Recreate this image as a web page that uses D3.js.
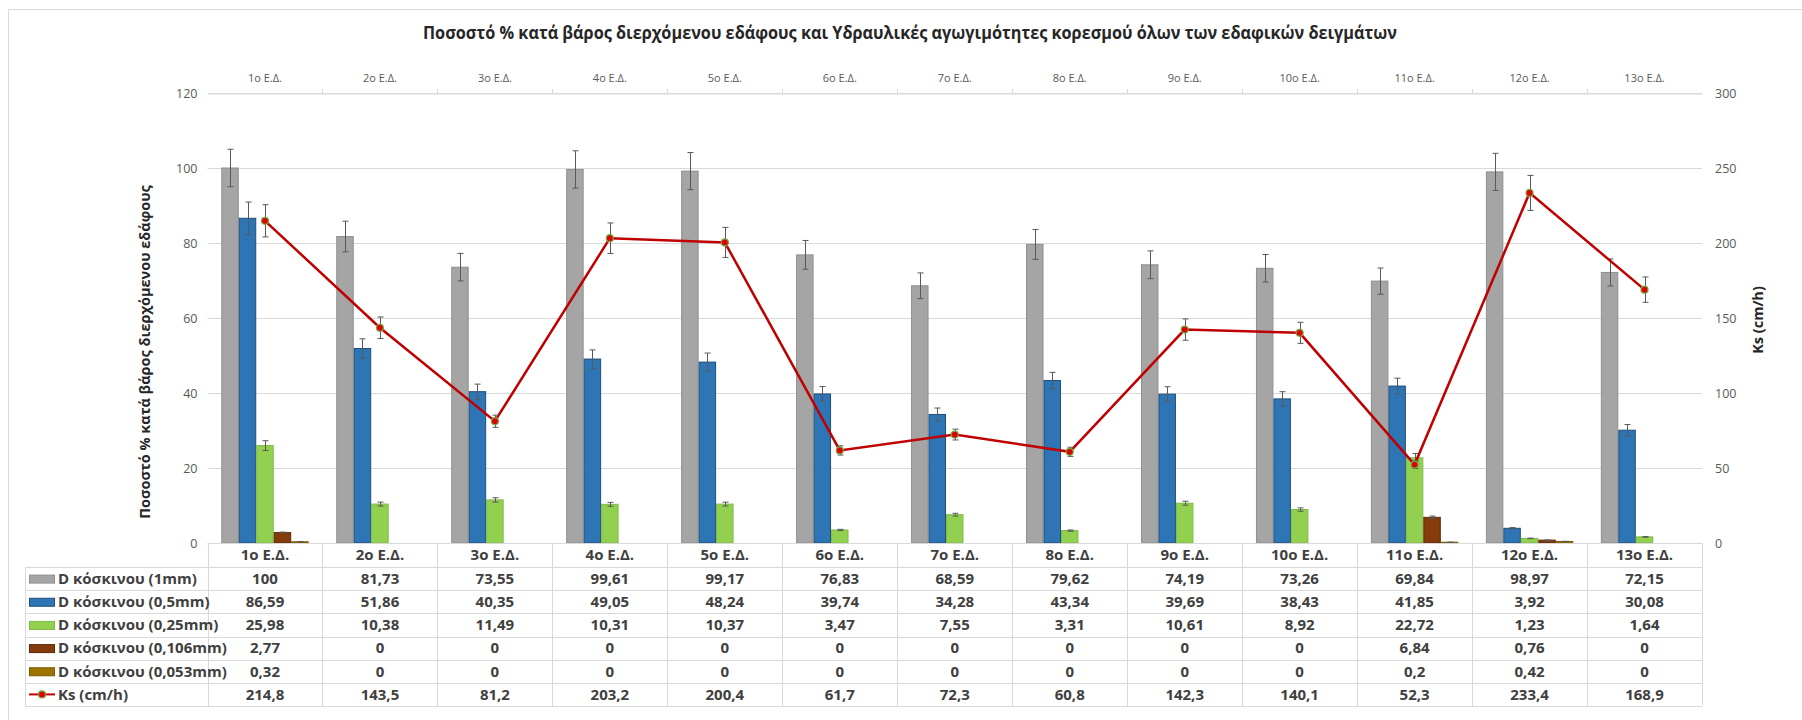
<!DOCTYPE html>
<html>
<head>
<meta charset="utf-8">
<script src="https://cdn.jsdelivr.net/npm/d3@7"></script>
<style>
  body { margin: 0; background: #ffffff; }
  svg text { font-family: 'Open Sans', 'Noto Sans', sans-serif; }
</style>
</head>
<body>
<div id="chart"></div>
<script>
// categories (soil samples)
const categories = ['1ο Ε.Δ.', '2ο Ε.Δ.', '3ο Ε.Δ.', '4ο Ε.Δ.', '5ο Ε.Δ.', '6ο Ε.Δ.', '7ο Ε.Δ.',
  '8ο Ε.Δ.', '9ο Ε.Δ.', '10ο Ε.Δ.', '11ο Ε.Δ.', '12ο Ε.Δ.', '13ο Ε.Δ.']

// % passing per sieve
const sieve_1mm = [100, 81.73, 73.55, 99.61, 99.17, 76.83, 68.59, 79.62, 74.19, 73.26, 69.84, 98.97, 72.15]
const sieve_05mm = [86.59, 51.86, 40.35, 49.05, 48.24, 39.74, 34.28, 43.34, 39.69, 38.43, 41.85, 3.92, 30.08]
const sieve_025mm = [25.98, 10.38, 11.49, 10.31, 10.37, 3.47, 7.55, 3.31, 10.61, 8.92, 22.72, 1.23, 1.64]
const sieve_0106mm = [2.77, 0, 0, 0, 0, 0, 0, 0, 0, 0, 6.84, 0.76, 0]
const sieve_0053mm = [0.32, 0, 0, 0, 0, 0, 0, 0, 0, 0, 0.2, 0.42, 0]

// hydraulic conductivity
const ks_values = [214.8, 143.5, 81.2, 203.2, 200.4, 61.7, 72.3, 60.8, 142.3, 140.1, 52.3, 233.4, 168.9]

const series_names = ['D κόσκινου (1mm)', 'D κόσκινου (0,5mm)', 'D κόσκινου (0,25mm)',
  'D κόσκινου (0,106mm)', 'D κόσκινου (0,053mm)']
const line_name = 'Ks (cm/h)'

const left_ticks = [0, 20, 40, 60, 80, 100, 120]
const right_ticks = [0, 50, 100, 150, 200, 250, 300]

const title_text = 'Ποσοστό % κατά βάρος διερχόμενου εδάφους και Υδραυλικές αγωγιμότητες κορεσμού όλων των εδαφικών δειγμάτων'
const y_title = 'Ποσοστό % κατά βάρος διερχόμενου εδάφους'
const y2_title = 'Ks (cm/h)'

const bar_series = [sieve_1mm, sieve_05mm, sieve_025mm, sieve_0106mm, sieve_0053mm]
const fills = ['#a5a5a5', '#2e75b6', '#92d050', '#843c0c', '#9c7400']
const strokes = ['#8f8f8f', '#1f4e79', '#7fbb45', '#5e2a08', '#7a5b00']

const W = 1802, H = 720
const plot = { left: 207.5, right: 1702, top: 93, bottom: 543 }
const table = { left: 25, headerBottom: 567, bottom: 706 }

const fmt = v => String(v).replace('.', ',')

const svg = d3.select('#chart').append('svg')
  .attr('width', W)
  .attr('height', H)

// outer chart border
svg.append('rect')
  .attr('x', 8.5).attr('y', 9.5)
  .attr('width', W).attr('height', H)
  .style('fill', 'none')
  .style('stroke', '#d9d9d9')

// scales
const x = d3.scaleBand().domain(categories).range([plot.left, plot.right]).padding(0)
const xs = d3.scaleBand().domain(d3.range(5)).range([0, x.bandwidth()]).paddingInner(0).paddingOuter(0.79)
const y = d3.scaleLinear().domain([0, 120]).range([plot.bottom, plot.top])
const y2 = d3.scaleLinear().domain([0, 300]).range([plot.bottom, plot.top])

// gridlines
svg.append('g')
  .selectAll('line')
  .data(left_ticks.slice(1))
  .enter()
  .append('line')
    .attr('x1', plot.left).attr('x2', plot.right)
    .attr('y1', d => Math.round(y(d)) + 0.5).attr('y2', d => Math.round(y(d)) + 0.5)
    .style('stroke', '#d9d9d9')

// left axis
const leftAxis = svg.append('g')
  .attr('transform', 'translate(' + plot.left + ',0)')
  .call(d3.axisLeft(y).tickValues(left_ticks).tickSize(0).tickPadding(10))
leftAxis.select('.domain').remove()
leftAxis.selectAll('text').style('font-size', '12.5px').style('fill', '#595959')

// right axis
const rightAxis = svg.append('g')
  .attr('transform', 'translate(' + plot.right + ',0)')
  .call(d3.axisRight(y2).tickValues(right_ticks).tickSize(0).tickPadding(13))
rightAxis.select('.domain').remove()
rightAxis.selectAll('text').style('font-size', '12.5px').style('fill', '#595959')

// top category axis
const topAxis = svg.append('g')
  .attr('transform', 'translate(0,' + (plot.top + 0.5) + ')')
  .call(d3.axisTop(x).tickSize(0).tickPadding(12))
topAxis.select('.domain').style('stroke', '#d9d9d9')
topAxis.selectAll('text').style('font-size', '11px').style('fill', '#595959')
svg.append('g')
  .selectAll('line')
  .data(categories.slice(1))
  .enter()
  .append('line')
    .attr('x1', d => Math.round(x(d)) + 0.5).attr('x2', d => Math.round(x(d)) + 0.5)
    .attr('y1', plot.top - 4).attr('y2', plot.top)
    .style('stroke', '#d9d9d9')

// bars
bar_series.forEach(function(values, s) {
  svg.append('g')
    .selectAll('rect')
    .data(values)
    .enter()
    .append('rect')
      .attr('x', (d, i) => x(categories[i]) + xs(s) + 0.5)
      .attr('y', d => y(d))
      .attr('width', xs.bandwidth() - 1)
      .attr('height', d => plot.bottom - y(d))
      .style('fill', fills[s])
      .style('stroke', strokes[s])
      .style('stroke-width', 1)
})

// error bars (5%) on bars
bar_series.forEach(function(values, s) {
  const g = svg.append('g')
  values.forEach(function(v, i) {
    if (v === 0) return
    const cx = Math.round(x(categories[i]) + xs(s) + xs.bandwidth() / 2) + 0.5
    const e = v * 0.05
    g.append('line').attr('x1', cx).attr('x2', cx).attr('y1', y(v + e)).attr('y2', y(v - e))
    g.append('line').attr('x1', cx - 3).attr('x2', cx + 3).attr('y1', y(v + e)).attr('y2', y(v + e))
    g.append('line').attr('x1', cx - 3).attr('x2', cx + 3).attr('y1', y(v - e)).attr('y2', y(v - e))
  })
  g.selectAll('line').style('stroke', '#595959').style('stroke-width', 1)
})

// Ks line
const cx = d => x(d) + x.bandwidth() / 2
const line = d3.line()
  .x((d, i) => cx(categories[i]))
  .y(d => y2(d))
svg.append('path')
  .datum(ks_values)
  .attr('d', line)
  .style('fill', 'none')
  .style('stroke', '#c00000')
  .style('stroke-width', 2.5)

// error bars on Ks
const ksErr = svg.append('g')
ks_values.forEach(function(v, i) {
  const px = Math.round(cx(categories[i])) + 0.5
  const e = v * 0.05
  ksErr.append('line').attr('x1', px).attr('x2', px).attr('y1', y2(v + e)).attr('y2', y2(v - e))
  ksErr.append('line').attr('x1', px - 3).attr('x2', px + 3).attr('y1', y2(v + e)).attr('y2', y2(v + e))
  ksErr.append('line').attr('x1', px - 3).attr('x2', px + 3).attr('y1', y2(v - e)).attr('y2', y2(v - e))
})
ksErr.selectAll('line').style('stroke', '#595959').style('stroke-width', 1)

svg.append('g')
  .selectAll('circle')
  .data(ks_values)
  .enter()
  .append('circle')
    .attr('cx', (d, i) => cx(categories[i]))
    .attr('cy', d => y2(d))
    .attr('r', 3.5)
    .style('fill', '#e00000')
    .style('stroke', '#70ad47')
    .style('stroke-width', 1.2)

// chart title
svg.append('text')
  .attr('x', 910)
  .attr('y', 39)
  .attr('text-anchor', 'middle')
  .attr('textLength', 974)
  .attr('lengthAdjust', 'spacingAndGlyphs')
  .style('font-size', '17px')
  .style('font-weight', 'bold')
  .style('fill', '#262626')
  .text(title_text)

// axis titles
svg.append('text')
  .attr('transform', 'translate(150,352) rotate(-90)')
  .attr('text-anchor', 'middle')
  .style('font-size', '14.5px')
  .style('font-weight', 'bold')
  .style('fill', '#262626')
  .text(y_title)

svg.append('text')
  .attr('transform', 'translate(1763,320) rotate(-90)')
  .attr('text-anchor', 'middle')
  .style('font-size', '14.5px')
  .style('font-weight', 'bold')
  .style('fill', '#262626')
  .text(y2_title)

// DATA TABLE
const rowH = (table.bottom - table.headerBottom) / 6
const tableRows = bar_series.concat([ks_values])
const rowNames = series_names.concat([line_name])
const tg = svg.append('g').style('stroke', '#d9d9d9').style('stroke-width', 1)

// horizontal lines
tg.append('line').attr('x1', plot.left).attr('x2', plot.right).attr('y1', plot.bottom + 0.5).attr('y2', plot.bottom + 0.5)
d3.range(7).forEach(function(r) {
  const yy = Math.round(table.headerBottom + r * rowH) + 0.5
  tg.append('line').attr('x1', table.left).attr('x2', plot.right).attr('y1', yy).attr('y2', yy)
})
// vertical lines
tg.append('line').attr('x1', table.left + 0.5).attr('x2', table.left + 0.5).attr('y1', table.headerBottom).attr('y2', table.bottom)
categories.concat(['end']).forEach(function(c, i) {
  const xx = Math.round(i < categories.length ? x(c) : plot.right) + 0.5
  tg.append('line').attr('x1', xx).attr('x2', xx).attr('y1', plot.bottom).attr('y2', table.bottom)
})

// header labels
svg.append('g')
  .selectAll('text')
  .data(categories)
  .enter()
  .append('text')
    .attr('x', d => cx(d))
    .attr('y', (plot.bottom + table.headerBottom) / 2)
    .attr('dy', '0.35em')
    .attr('text-anchor', 'middle')
    .style('font-size', '15px')
    .style('font-weight', 'bold')
    .style('fill', '#404040')
    .text(d => d)

// value cells
tableRows.forEach(function(values, r) {
  const yc = table.headerBottom + rowH * (r + 0.5)
  svg.append('g')
    .selectAll('text')
    .data(values)
    .enter()
    .append('text')
      .attr('x', (d, i) => cx(categories[i]))
      .attr('y', yc)
      .attr('dy', '0.35em')
      .attr('text-anchor', 'middle')
      .style('font-size', '15px')
      .style('font-weight', 'bold')
      .style('fill', '#404040')
      .text(d => fmt(d))

  // legend key + name
  if (r < 5) {
    svg.append('rect')
      .attr('x', 29.5).attr('y', yc - 3.5)
      .attr('width', 25).attr('height', 8)
      .style('fill', fills[r])
      .style('stroke', strokes[r])
  } else {
    svg.append('line')
      .attr('x1', 29).attr('x2', 55).attr('y1', yc).attr('y2', yc)
      .style('stroke', '#c00000').style('stroke-width', 2)
    svg.append('circle')
      .attr('cx', 42).attr('cy', yc).attr('r', 3.5)
      .style('fill', '#e00000').style('stroke', '#70ad47').style('stroke-width', 1.2)
  }
  svg.append('text')
    .attr('x', 58)
    .attr('y', yc)
    .attr('dy', '0.35em')
    .style('font-size', '15px')
    .style('font-weight', 'bold')
    .style('fill', '#404040')
    .text(rowNames[r])
})
</script>
</body>
</html>
